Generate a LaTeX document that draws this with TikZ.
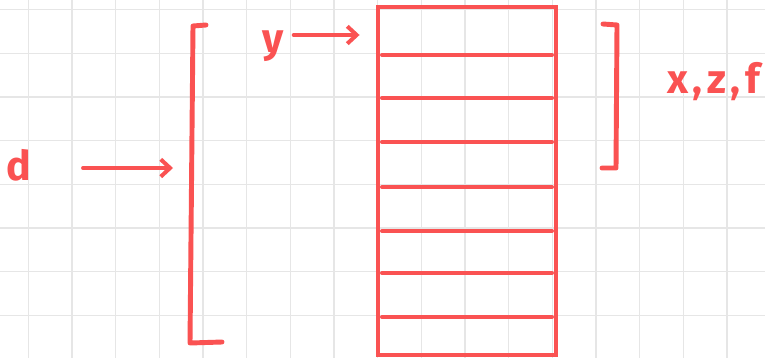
\documentclass[tikz,border=0pt]{standalone}
\usepackage{xcolor}
\usepackage{fontspec}
\setmainfont{Fira Sans}
\usepackage{tikz}
\usetikzlibrary{positioning,arrows.meta}
\definecolor{ink}{HTML}{FA5252}
\definecolor{paper}{HTML}{E6E6E6}
\tikzset{
  gridline/.style={draw=paper, line width=1.1pt},
  tablebox/.style={rectangle, draw=ink, line width=4.2pt, minimum width=5.34cm, minimum height=10.44cm, inner sep=0pt},
  rowline/.style={draw=ink, line width=3.4pt, line cap=round},
  bracket/.style={draw=ink, line width=4.2pt, line cap=round, line join=round},
  tag/.style={text=ink, font=\fontsize{35}{40}\selectfont\bfseries, inner sep=0pt, anchor=base west},
  arr/.style={-{Straight Barb[length=2.8mm, width=5.2mm, line width=3.4pt]}, draw=ink, line width=3.4pt, line cap=round},
}
\begin{document}
\begin{tikzpicture}[x=0.03cm, y=-0.03cm]
      \useasboundingbox (0,0) rectangle (765,358);
      \fill[white] (0,0) rectangle (765,358);
      % squared paper
      \foreach \k in {0,...,16} \draw[gridline] ({28.3+43.66*\k},0) -- ({28.3+43.66*\k},358);
      \foreach \k in {0,...,7} \draw[gridline] (0,{9.5+43.7*\k}) -- (765,{9.5+43.7*\k});
      % table
      \node[tablebox] (tbl) at (467,181) {};
      \foreach \yy in {55,98,142,187,231,273,317}
        \draw[rowline] (382,\yy) -- (552,\yy);
      % brackets
      \draw[bracket] (206,25) -- (193,26) -- (190,343) -- (222,342);
      \draw[bracket] (603,24) -- (617,25) -- (616,168) -- (602,168);
      \coordinate (lb) at (190,168);
      \coordinate (ytip) at (tbl.west |- 0,35);
      % labels
      \node[tag] (d) at (6,180) {d};
      \node[tag] (y) at (262,52) {y};
      \node[tag] (xzf) at (667,93) {x\kern4pt,\kern4pt z\kern4pt,\kern4pt f};
      \draw[arr, shorten <=1.56cm, shorten >=0.51cm] (d.east |- lb) -- (lb);
      \draw[arr, shorten <=0.3cm, shorten >=0.48cm] (y.east |- ytip) -- (ytip);
    \end{tikzpicture}
\end{document}
